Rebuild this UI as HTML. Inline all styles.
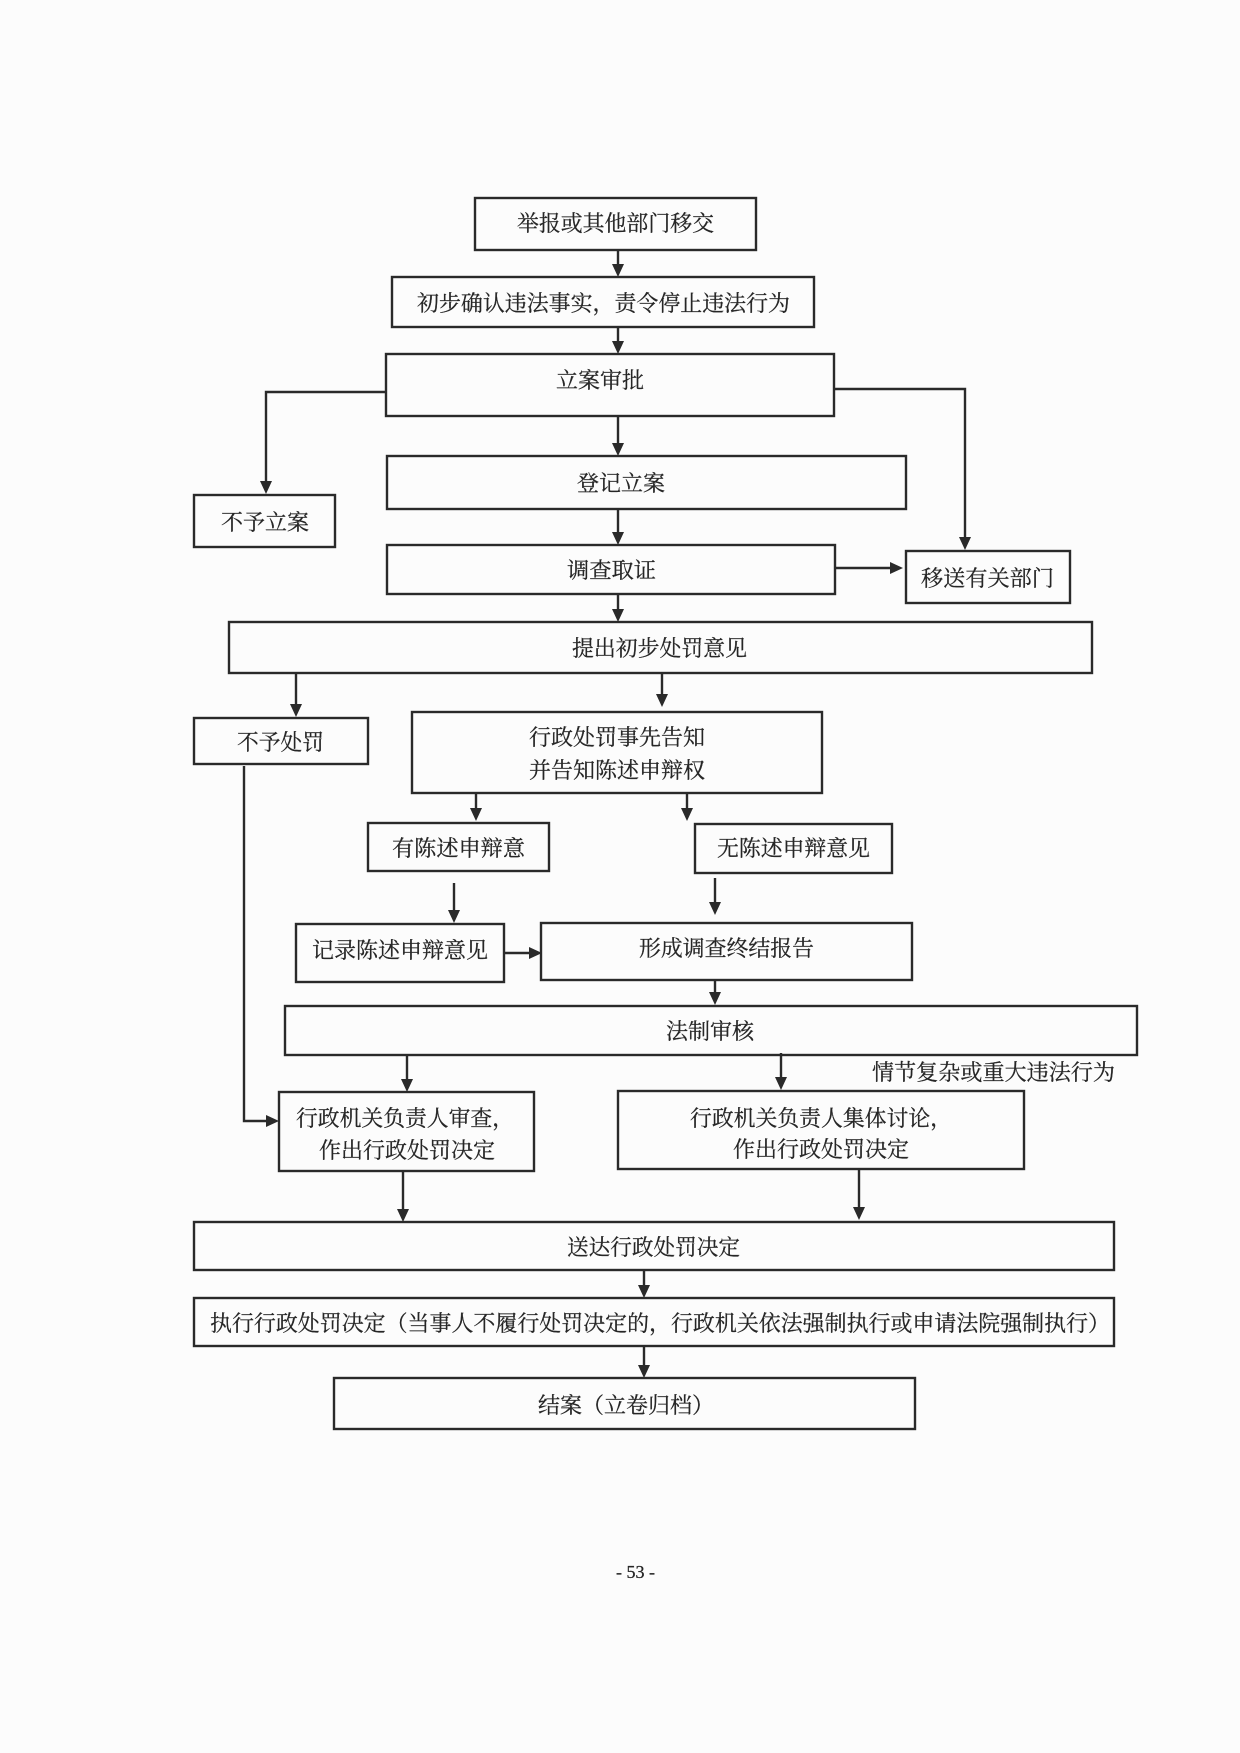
<!DOCTYPE html>
<html>
<head>
<meta charset="utf-8">
<style>
  html, body { margin: 0; padding: 0; background: #fcfcfc; }
  body { width: 1240px; height: 1753px; overflow: hidden; }
  svg { display: block; }
  .t { font-family: "Liberation Serif", "Noto Serif CJK SC", "Noto Sans CJK SC", serif; font-size: 22px; fill: #262626; stroke: #262626; stroke-width: 0.25; }
  .pn { font-family: "Liberation Serif", serif; font-size: 18px; fill: #262626; stroke: #262626; stroke-width: 0.3; }
</style>
</head>
<body>
<svg width="1240" height="1753" viewBox="0 0 1240 1753" xmlns="http://www.w3.org/2000/svg">
  <rect x="0" y="0" width="1240" height="1753" fill="#fcfcfc"/>

  <g fill="none" stroke="#2a2a2a" stroke-width="2.4">
    <!-- boxes -->
    <rect x="475" y="198" width="281" height="52"/>
    <rect x="392" y="277" width="422" height="50"/>
    <rect x="386" y="354" width="448" height="62"/>
    <rect x="194" y="495" width="141" height="52"/>
    <rect x="387" y="456" width="519" height="53"/>
    <rect x="387" y="545" width="448" height="49"/>
    <rect x="906" y="551" width="164" height="52"/>
    <rect x="229" y="622" width="863" height="51"/>
    <rect x="194" y="718" width="174" height="46"/>
    <rect x="412" y="712" width="410" height="81"/>
    <rect x="368" y="823" width="181" height="48"/>
    <rect x="695" y="824" width="197" height="49"/>
    <rect x="296" y="924" width="208" height="58"/>
    <rect x="541" y="923" width="371" height="57"/>
    <rect x="285" y="1006" width="852" height="49"/>
    <rect x="279" y="1092" width="255" height="79"/>
    <rect x="618" y="1091" width="406" height="78"/>
    <rect x="194" y="1222" width="920" height="48"/>
    <rect x="194" y="1298" width="920" height="48"/>
    <rect x="334" y="1378" width="581" height="51"/>

    <!-- connector lines -->
    <line x1="618" y1="250" x2="618" y2="268"/>
    <line x1="618" y1="327" x2="618" y2="344"/>
    <polyline points="386,392 266,392 266,484"/>
    <polyline points="834,389 965,389 965,540"/>
    <line x1="618" y1="416" x2="618" y2="446"/>
    <line x1="618" y1="509" x2="618" y2="535"/>
    <line x1="835" y1="568" x2="892" y2="568"/>
    <line x1="618" y1="594" x2="618" y2="612"/>
    <line x1="296" y1="673" x2="296" y2="707"/>
    <line x1="662" y1="673" x2="662" y2="697"/>
    <line x1="476" y1="793" x2="476" y2="810"/>
    <line x1="687" y1="793" x2="687" y2="810"/>
    <line x1="454" y1="883" x2="454" y2="912"/>
    <line x1="715" y1="878" x2="715" y2="904"/>
    <line x1="504" y1="953" x2="530" y2="953"/>
    <line x1="715" y1="980" x2="715" y2="994"/>
    <polyline points="244,766 244,1121 268,1121"/>
    <line x1="407" y1="1055" x2="407" y2="1081"/>
    <line x1="781" y1="1053" x2="781" y2="1079"/>
    <line x1="403" y1="1171" x2="403" y2="1211"/>
    <line x1="859" y1="1169" x2="859" y2="1209"/>
    <line x1="644" y1="1270" x2="644" y2="1287"/>
    <line x1="644" y1="1346" x2="644" y2="1367"/>
  </g>

  <!-- arrowheads -->
  <g fill="#2a2a2a">
    <polygon points="618,277 612,264 624,264"/>
    <polygon points="618,354 612,341 624,341"/>
    <polygon points="266,494 260,481 272,481"/>
    <polygon points="965,550 959,537 971,537"/>
    <polygon points="618,456 612,443 624,443"/>
    <polygon points="618,545 612,532 624,532"/>
    <polygon points="903,568 890,562 890,574"/>
    <polygon points="618,622 612,609 624,609"/>
    <polygon points="296,717 290,704 302,704"/>
    <polygon points="662,707 656,694 668,694"/>
    <polygon points="476,821 470,808 482,808"/>
    <polygon points="687,821 681,808 693,808"/>
    <polygon points="454,923 448,910 460,910"/>
    <polygon points="715,915 709,902 721,902"/>
    <polygon points="542,953 529,947 529,959"/>
    <polygon points="715,1005 709,992 721,992"/>
    <polygon points="279,1121 266,1115 266,1127"/>
    <polygon points="407,1092 401,1079 413,1079"/>
    <polygon points="781,1090 775,1077 787,1077"/>
    <polygon points="403,1222 397,1209 409,1209"/>
    <polygon points="859,1220 853,1207 865,1207"/>
    <polygon points="644,1298 638,1285 650,1285"/>
    <polygon points="644,1378 638,1365 650,1365"/>
  </g>

  <!-- labels -->
  <g class="t">
    <text x="517" y="231" textLength="197" lengthAdjust="spacingAndGlyphs">举报或其他部门移交</text>
    <text x="417" y="311" textLength="373" lengthAdjust="spacingAndGlyphs">初步确认违法事实，责令停止违法行为</text>
    <text x="556" y="388" textLength="88" lengthAdjust="spacingAndGlyphs">立案审批</text>
    <text x="221" y="530" textLength="88" lengthAdjust="spacingAndGlyphs">不予立案</text>
    <text x="577" y="491" textLength="88" lengthAdjust="spacingAndGlyphs">登记立案</text>
    <text x="567" y="578" textLength="89" lengthAdjust="spacingAndGlyphs">调查取证</text>
    <text x="921" y="586" textLength="133" lengthAdjust="spacingAndGlyphs">移送有关部门</text>
    <text x="572" y="656" textLength="175" lengthAdjust="spacingAndGlyphs">提出初步处罚意见</text>
    <text x="237" y="750" textLength="87" lengthAdjust="spacingAndGlyphs">不予处罚</text>
    <text x="529" y="745" textLength="176" lengthAdjust="spacingAndGlyphs">行政处罚事先告知</text>
    <text x="529" y="778" textLength="176" lengthAdjust="spacingAndGlyphs">并告知陈述申辩权</text>
    <text x="392" y="856" textLength="133" lengthAdjust="spacingAndGlyphs">有陈述申辩意</text>
    <text x="717" y="856" textLength="153" lengthAdjust="spacingAndGlyphs">无陈述申辩意见</text>
    <text x="312" y="958" textLength="176" lengthAdjust="spacingAndGlyphs">记录陈述申辩意见</text>
    <text x="639" y="956" textLength="175" lengthAdjust="spacingAndGlyphs">形成调查终结报告</text>
    <text x="666" y="1039" textLength="88" lengthAdjust="spacingAndGlyphs">法制审核</text>
    <text x="872" y="1080" textLength="243" lengthAdjust="spacingAndGlyphs">情节复杂或重大违法行为</text>
    <text x="296" y="1126" textLength="218" lengthAdjust="spacingAndGlyphs">行政机关负责人审查，</text>
    <text x="319" y="1158" textLength="176" lengthAdjust="spacingAndGlyphs">作出行政处罚决定</text>
    <text x="690" y="1126" textLength="262" lengthAdjust="spacingAndGlyphs">行政机关负责人集体讨论，</text>
    <text x="733" y="1157" textLength="176" lengthAdjust="spacingAndGlyphs">作出行政处罚决定</text>
    <text x="567" y="1255" textLength="173" lengthAdjust="spacingAndGlyphs">送达行政处罚决定</text>
    <text x="210" y="1331" textLength="900" lengthAdjust="spacingAndGlyphs">执行行政处罚决定（当事人不履行处罚决定的，行政机关依法强制执行或申请法院强制执行）</text>
    <text x="538" y="1413" textLength="176" lengthAdjust="spacingAndGlyphs">结案（立卷归档）</text>
  </g>

  <text class="pn" x="616" y="1578">- 53 -</text>
</svg>
</body>
</html>
